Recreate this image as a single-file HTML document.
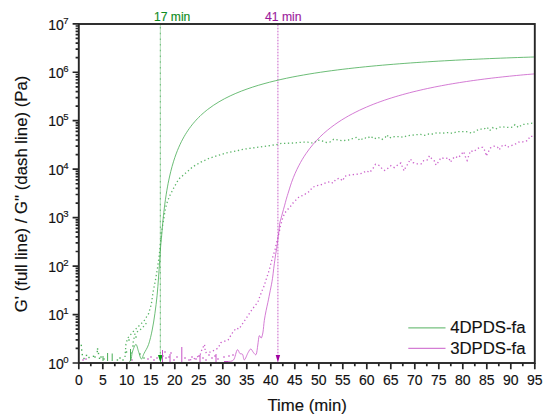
<!DOCTYPE html>
<html><head><meta charset="utf-8"><style>
html,body{margin:0;padding:0;background:#fff;width:550px;height:419px;overflow:hidden}
svg{display:block}
text{font-family:"Liberation Sans",sans-serif}
</style></head><body>
<svg width="550" height="419" viewBox="0 0 550 419"><line x1="160.35" y1="25" x2="160.35" y2="356" stroke="#48ad56" stroke-width="1" opacity="0.4"/><line x1="160.35" y1="27" x2="160.35" y2="356" stroke="#48ad56" stroke-width="1.1" stroke-dasharray="1.5 4.2" opacity="0.65"/><polygon points="158,355 162.8,355 160.4,362.5" fill="#0a9a1a"/><line x1="277.9" y1="25" x2="277.9" y2="356" stroke="#c652c6" stroke-width="0.9" opacity="0.3"/><line x1="277.9" y1="25" x2="277.9" y2="356" stroke="#c652c6" stroke-width="1" stroke-dasharray="1.1 1.9" opacity="0.75"/><polygon points="275.7,355 280.1,355 277.9,362.5" fill="#a000a0"/><rect x="80.6" y="344.7" width="1.4" height="1.4" fill="#48ad56"/><rect x="81.0" y="349.3" width="1.4" height="1.4" fill="#48ad56"/><rect x="81.6" y="353.9" width="1.4" height="1.4" fill="#48ad56"/><rect x="83.3" y="357.8" width="1.4" height="1.4" fill="#48ad56"/><rect x="85.8" y="354.7" width="1.4" height="1.4" fill="#48ad56"/><rect x="88.3" y="356.8" width="1.4" height="1.4" fill="#48ad56"/><rect x="92.8" y="355.6" width="1.4" height="1.4" fill="#48ad56"/><rect x="94.3" y="356.3" width="1.4" height="1.4" fill="#48ad56"/><rect x="96.9" y="348.3" width="1.4" height="1.4" fill="#48ad56"/><rect x="96.6" y="350.8" width="1.4" height="1.4" fill="#48ad56"/><rect x="97.8" y="352.8" width="1.4" height="1.4" fill="#48ad56"/><rect x="98.8" y="357.6" width="1.4" height="1.4" fill="#48ad56"/><rect x="100.3" y="356.3" width="1.4" height="1.4" fill="#48ad56"/><rect x="103.3" y="358.3" width="1.4" height="1.4" fill="#48ad56"/><rect x="116.7" y="359.3" width="1.4" height="1.4" fill="#48ad56"/><rect x="119.3" y="357.3" width="1.4" height="1.4" fill="#48ad56"/><rect x="122.3" y="359.3" width="1.4" height="1.4" fill="#48ad56"/><rect x="125.8" y="351.3" width="1.4" height="1.4" fill="#48ad56"/><rect x="130.3" y="352.3" width="1.4" height="1.4" fill="#48ad56"/><rect x="132.3" y="345.3" width="1.4" height="1.4" fill="#48ad56"/><rect x="128.3" y="339.3" width="1.4" height="1.4" fill="#48ad56"/><rect x="135.3" y="336.3" width="1.4" height="1.4" fill="#48ad56"/><rect x="139.3" y="353.3" width="1.4" height="1.4" fill="#48ad56"/><rect x="143.3" y="357.3" width="1.4" height="1.4" fill="#48ad56"/><line x1="107.6" y1="353" x2="107.6" y2="361" stroke="#48ad56" stroke-width="1"/><line x1="112.2" y1="353.5" x2="112.2" y2="361" stroke="#48ad56" stroke-width="1"/><line x1="103" y1="356" x2="103" y2="361" stroke="#48ad56" stroke-width="1"/><line x1="130.5" y1="349" x2="130.5" y2="361" stroke="#48ad56" stroke-width="1"/><rect x="82.3" y="359.3" width="1.4" height="1.4" fill="#c652c6"/><rect x="85.3" y="358.3" width="1.4" height="1.4" fill="#c652c6"/><rect x="131.3" y="359.3" width="1.4" height="1.4" fill="#c652c6"/><rect x="147.3" y="358.3" width="1.4" height="1.4" fill="#c652c6"/><rect x="150.3" y="356.3" width="1.4" height="1.4" fill="#c652c6"/><rect x="153.3" y="359.3" width="1.4" height="1.4" fill="#c652c6"/><rect x="156.3" y="357.3" width="1.4" height="1.4" fill="#c652c6"/><rect x="162.3" y="355.3" width="1.4" height="1.4" fill="#c652c6"/><rect x="164.3" y="351.3" width="1.4" height="1.4" fill="#c652c6"/><rect x="165.3" y="357.3" width="1.4" height="1.4" fill="#c652c6"/><rect x="168.3" y="356.3" width="1.4" height="1.4" fill="#c652c6"/><rect x="170.3" y="352.3" width="1.4" height="1.4" fill="#c652c6"/><rect x="173.3" y="359.3" width="1.4" height="1.4" fill="#c652c6"/><rect x="176.3" y="356.3" width="1.4" height="1.4" fill="#c652c6"/><rect x="184.3" y="357.3" width="1.4" height="1.4" fill="#c652c6"/><rect x="188.3" y="359.3" width="1.4" height="1.4" fill="#c652c6"/><rect x="191.3" y="356.3" width="1.4" height="1.4" fill="#c652c6"/><rect x="195.3" y="358.3" width="1.4" height="1.4" fill="#c652c6"/><rect x="198.3" y="355.3" width="1.4" height="1.4" fill="#c652c6"/><rect x="202.3" y="357.3" width="1.4" height="1.4" fill="#c652c6"/><rect x="205.3" y="359.3" width="1.4" height="1.4" fill="#c652c6"/><rect x="208.3" y="354.3" width="1.4" height="1.4" fill="#c652c6"/><rect x="211.3" y="357.3" width="1.4" height="1.4" fill="#c652c6"/><rect x="214.3" y="355.3" width="1.4" height="1.4" fill="#c652c6"/><rect x="217.3" y="358.3" width="1.4" height="1.4" fill="#c652c6"/><rect x="223.3" y="356.3" width="1.4" height="1.4" fill="#c652c6"/><rect x="228.3" y="355.3" width="1.4" height="1.4" fill="#c652c6"/><rect x="232.3" y="354.3" width="1.4" height="1.4" fill="#c652c6"/><line x1="162.5" y1="350" x2="162.5" y2="362" stroke="#c652c6" stroke-width="1"/><line x1="181.8" y1="347" x2="181.8" y2="362" stroke="#c652c6" stroke-width="1"/><line x1="170" y1="354" x2="170" y2="362" stroke="#c652c6" stroke-width="1"/><line x1="200" y1="355" x2="200" y2="362" stroke="#c652c6" stroke-width="1"/><line x1="216" y1="354" x2="216" y2="362" stroke="#c652c6" stroke-width="1"/><path d="M129.00,361.50 C129.33,361.25 130.43,361.58 131.00,360.00 C131.57,358.42 131.58,354.60 132.40,352.00 C133.22,349.40 134.87,344.45 135.90,344.40 C136.93,344.35 137.70,349.27 138.60,351.70 C139.50,354.13 140.40,358.70 141.30,359.00 C142.20,359.30 142.78,355.93 144.00,353.50 C145.22,351.07 147.23,348.32 148.60,344.40 C149.97,340.48 151.15,335.13 152.20,330.00 C153.25,324.87 154.08,319.37 154.90,313.60 C155.72,307.83 156.50,301.33 157.10,295.40 C157.70,289.47 158.08,283.57 158.50,278.00 C158.92,272.43 159.27,267.00 159.60,262.00 C159.93,257.00 160.18,252.10 160.50,248.00 C160.82,243.90 161.11,241.74 161.50,237.37 C161.89,233.00 162.39,226.43 162.83,221.76 C163.27,217.10 163.71,213.15 164.16,209.40 C164.60,205.64 165.04,202.36 165.48,199.25 C165.93,196.14 166.37,193.36 166.81,190.71 C167.25,188.07 167.70,185.67 168.14,183.39 C168.58,181.10 169.02,179.01 169.47,177.00 C169.91,175.00 170.35,173.14 170.79,171.36 C171.24,169.59 171.68,167.93 172.12,166.33 C172.56,164.74 173.01,163.24 173.45,161.80 C173.89,160.37 174.33,159.01 174.78,157.70 C175.22,156.39 175.66,155.15 176.10,153.95 C176.55,152.75 176.99,151.61 177.43,150.50 C177.87,149.40 178.32,148.35 178.76,147.33 C179.20,146.31 179.64,145.33 180.09,144.38 C180.53,143.43 180.97,142.52 181.41,141.64 C181.86,140.75 182.30,139.90 182.74,139.08 C183.18,138.25 183.63,137.45 184.07,136.68 C184.51,135.90 184.95,135.15 185.40,134.42 C185.84,133.69 186.28,132.99 186.72,132.30 C187.17,131.61 187.61,130.94 188.05,130.29 C188.49,129.64 188.94,129.01 189.38,128.39 C189.82,127.78 190.26,127.18 190.71,126.59 C191.15,126.00 191.59,125.43 192.03,124.88 C192.48,124.32 192.92,123.78 193.36,123.25 C193.80,122.71 194.25,122.20 194.69,121.69 C195.13,121.18 195.57,120.69 196.02,120.20 C196.46,119.72 196.90,119.25 197.34,118.78 C197.79,118.32 198.23,117.86 198.67,117.42 C199.11,116.97 199.45,116.64 200.00,116.11 C200.55,115.58 200.73,115.34 202.00,114.24 C203.27,113.14 205.76,110.98 207.64,109.51 C209.51,108.04 211.39,106.70 213.27,105.43 C215.15,104.16 217.03,102.98 218.91,101.86 C220.79,100.74 222.66,99.71 224.54,98.71 C226.42,97.72 228.30,96.79 230.18,95.90 C232.06,95.01 233.94,94.17 235.81,93.37 C237.69,92.56 239.57,91.81 241.45,91.08 C243.33,90.35 245.21,89.65 247.08,88.99 C248.96,88.32 250.84,87.69 252.72,87.07 C254.60,86.46 256.48,85.88 258.36,85.31 C260.23,84.75 262.11,84.21 263.99,83.69 C265.87,83.16 267.75,82.66 269.63,82.18 C271.51,81.69 273.38,81.23 275.26,80.78 C277.14,80.32 279.02,79.89 280.90,79.47 C282.78,79.04 284.66,78.64 286.53,78.24 C288.41,77.85 290.29,77.47 292.17,77.09 C294.05,76.72 295.93,76.36 297.81,76.02 C299.68,75.67 301.56,75.33 303.44,75.00 C305.32,74.67 307.20,74.35 309.08,74.04 C310.95,73.73 312.83,73.43 314.71,73.13 C316.59,72.84 318.47,72.56 320.35,72.28 C322.23,72.00 324.10,71.73 325.98,71.46 C327.86,71.20 329.74,70.94 331.62,70.69 C333.50,70.44 335.38,70.20 337.25,69.96 C339.13,69.72 341.01,69.49 342.89,69.26 C344.77,69.04 346.65,68.81 348.53,68.60 C350.40,68.38 352.28,68.17 354.16,67.96 C356.04,67.76 357.92,67.56 359.80,67.36 C361.68,67.16 363.55,66.97 365.43,66.78 C367.31,66.59 369.19,66.41 371.07,66.23 C372.95,66.05 374.82,65.87 376.70,65.70 C378.58,65.53 380.46,65.36 382.34,65.20 C384.22,65.03 386.10,64.87 387.97,64.71 C389.85,64.55 391.73,64.40 393.61,64.25 C395.49,64.10 397.37,63.95 399.25,63.80 C401.12,63.66 403.00,63.51 404.88,63.38 C406.76,63.24 408.64,63.10 410.52,62.96 C412.40,62.83 414.27,62.70 416.15,62.57 C418.03,62.44 419.91,62.32 421.79,62.19 C423.67,62.07 425.55,61.95 427.42,61.83 C429.30,61.71 431.18,61.59 433.06,61.48 C434.94,61.36 436.82,61.25 438.69,61.14 C440.57,61.03 442.45,60.92 444.33,60.82 C446.21,60.71 448.09,60.61 449.97,60.50 C451.84,60.40 453.72,60.30 455.60,60.20 C457.48,60.11 459.36,60.01 461.24,59.91 C463.12,59.82 464.99,59.73 466.87,59.63 C468.75,59.54 470.63,59.45 472.51,59.37 C474.39,59.28 476.27,59.19 478.14,59.11 C480.02,59.02 481.90,58.94 483.78,58.86 C485.66,58.78 487.54,58.70 489.42,58.62 C491.29,58.54 493.17,58.46 495.05,58.38 C496.93,58.31 498.81,58.23 500.69,58.16 C502.56,58.09 504.44,58.02 506.32,57.94 C508.20,57.87 510.08,57.80 511.96,57.74 C513.84,57.67 515.71,57.60 517.59,57.54 C519.47,57.47 521.35,57.41 523.23,57.34 C525.11,57.28 526.99,57.22 528.86,57.16 C530.74,57.09 533.56,57.01 534.50,56.98" fill="none" stroke="#48ad56" stroke-width="0.95" opacity="0.85"/><path d="M125.0,357.0 L125.9,344.4 L127.7,338.1 L133.1,331.7 L138.6,326.3 L144.0,320.9 L148.6,313.6 L151.3,304.5 L153.1,291.8 L155.5,280.0 L157.5,268.0 L159.3,255.0 L160.9,238.2 L161.8,230.6 L163.0,223.0 L164.3,215.3 L165.6,207.7 L167.6,201.0 L170.0,195.3 L173.9,187.7 L178.6,179.2 L185.8,172.9 L192.9,166.7 L200.8,162.2 L208.7,158.5 L217.3,155.6 L226.6,152.9 L244.5,149.1 L259.1,147.1 L277.3,144.5 L281.5,143.3 L287.3,143.3 L294.5,142.9 L301.8,142.2 L307.6,142.2 L312.0,142.9 L314.9,142.2 L317.8,140.0 L322.2,141.0 L326.5,142.5 L330.2,141.9 L333.8,139.3 L338.2,140.0 L342.5,140.7 L348.4,140.0 L352.7,138.5 L357.0,137.3 L359.9,140.5 L364.0,137.8 L367.3,138.4 L370.5,136.1 L374.3,138.9 L377.9,137.3 L382.0,139.4 L385.3,137.3 L386.9,134.8 L389.4,138.1 L392.6,136.8 L399.5,136.5 L403.3,137.3 L406.6,135.8 L410.6,135.3 L415.6,134.8 L420.5,134.3 L424.6,135.3 L428.7,134.0 L432.7,134.0 L437.7,132.5 L441.7,133.3 L448.7,132.5 L452.2,133.3 L457.5,131.6 L466.2,131.6 L469.7,132.5 L472.3,133.0 L475.8,131.1 L479.3,129.0 L483.6,129.3 L487.1,127.2 L489.7,130.7 L492.4,127.6 L495.8,129.0 L499.3,127.2 L502.8,126.9 L509.8,127.6 L512.4,127.2 L515.0,124.6 L518.5,127.6 L522.0,124.6 L526.4,124.1 L530.8,123.4 L534.2,122.9" fill="none" stroke="#48ad56" stroke-width="1.3" stroke-dasharray="1.3 2.6" opacity="0.9"/><path d="M133.1,342.6 L135.0,333.6 L142.2,328.1 L146.8,322.7" fill="none" stroke="#48ad56" stroke-width="1.3" stroke-dasharray="1.3 2.6" opacity="0.9"/><path d="M224.0,361.5 L228.0,361.5" fill="none" stroke="#c652c6" stroke-width="1"/><path d="M228.00,361.50 C228.93,361.23 232.07,361.83 233.60,359.90 C235.13,357.97 236.15,350.97 237.20,349.90 C238.25,348.83 239.00,352.75 239.90,353.50 C240.80,354.25 241.85,353.33 242.60,354.40 C243.35,355.47 243.48,360.20 244.40,359.90 C245.32,359.60 247.03,354.42 248.10,352.60 C249.17,350.78 249.90,349.00 250.80,349.00 C251.70,349.00 252.60,351.70 253.50,352.60 C254.40,353.50 255.48,355.67 256.20,354.40 C256.92,353.13 257.30,348.10 257.80,345.00 C258.30,341.90 258.62,336.97 259.20,335.80 C259.78,334.63 260.67,338.63 261.30,338.00 C261.93,337.37 262.50,334.92 263.00,332.00 C263.50,329.08 263.78,324.07 264.30,320.50 C264.82,316.93 265.50,313.63 266.10,310.60 C266.70,307.57 267.40,304.68 267.90,302.30 C268.40,299.92 268.70,298.30 269.10,296.30 C269.50,294.30 269.90,292.30 270.30,290.30 C270.70,288.30 271.13,286.28 271.50,284.30 C271.87,282.32 272.23,280.15 272.50,278.40 C272.77,276.65 272.90,275.43 273.10,273.80 C273.30,272.17 273.48,270.35 273.70,268.60 C273.92,266.85 274.17,265.05 274.40,263.30 C274.63,261.55 274.88,259.63 275.10,258.10 C275.32,256.57 275.48,255.42 275.70,254.10 C275.92,252.78 276.18,251.52 276.40,250.20 C276.62,248.88 276.78,247.73 277.00,246.20 C277.22,244.67 277.48,242.75 277.70,241.00 C277.92,239.25 278.08,237.45 278.30,235.70 C278.52,233.95 278.77,232.53 279.00,230.50 C279.23,228.47 279.37,225.50 279.70,223.50 C280.03,221.50 280.53,220.25 281.00,218.50 C281.47,216.75 281.92,215.12 282.50,213.00 C283.08,210.88 283.88,208.05 284.50,205.80 C285.12,203.55 285.62,201.54 286.20,199.50 C286.78,197.46 287.10,196.40 288.00,193.53 C288.90,190.67 290.38,185.70 291.57,182.33 C292.76,178.96 293.95,176.08 295.14,173.33 C296.34,170.58 297.53,168.15 298.72,165.82 C299.91,163.50 301.10,161.41 302.29,159.40 C303.48,157.40 304.67,155.56 305.86,153.81 C307.05,152.05 308.24,150.42 309.43,148.85 C310.63,147.29 311.82,145.83 313.01,144.42 C314.20,143.01 315.39,141.69 316.58,140.42 C317.77,139.14 318.96,137.93 320.15,136.77 C321.34,135.60 322.53,134.50 323.72,133.42 C324.92,132.35 326.11,131.33 327.30,130.34 C328.49,129.35 329.68,128.41 330.87,127.49 C332.06,126.57 333.25,125.69 334.44,124.83 C335.63,123.98 336.82,123.15 338.01,122.35 C339.21,121.55 340.40,120.78 341.59,120.03 C342.78,119.28 343.97,118.55 345.16,117.85 C346.35,117.14 347.54,116.46 348.73,115.79 C349.92,115.13 351.11,114.48 352.30,113.85 C353.50,113.22 354.69,112.61 355.88,112.02 C357.07,111.42 358.26,110.84 359.45,110.28 C360.64,109.71 361.83,109.16 363.02,108.62 C364.21,108.09 365.40,107.56 366.59,107.05 C367.79,106.54 368.98,106.04 370.17,105.55 C371.36,105.07 372.55,104.59 373.74,104.13 C374.93,103.66 376.12,103.21 377.31,102.76 C378.50,102.32 379.69,101.88 380.88,101.46 C382.07,101.03 383.27,100.62 384.46,100.21 C385.65,99.80 386.84,99.41 388.03,99.01 C389.22,98.62 390.41,98.24 391.60,97.87 C392.79,97.49 393.98,97.13 395.17,96.77 C396.36,96.41 397.56,96.06 398.75,95.71 C399.94,95.37 401.13,95.03 402.32,94.69 C403.51,94.36 404.70,94.04 405.89,93.72 C407.08,93.40 408.27,93.08 409.46,92.78 C410.65,92.47 411.85,92.17 413.04,91.87 C414.23,91.57 415.42,91.28 416.61,91.00 C417.80,90.71 418.99,90.43 420.18,90.16 C421.37,89.88 422.56,89.61 423.75,89.34 C424.94,89.08 426.14,88.82 427.33,88.56 C428.52,88.30 429.71,88.05 430.90,87.80 C432.09,87.56 433.28,87.31 434.47,87.07 C435.66,86.83 436.85,86.60 438.04,86.37 C439.23,86.14 440.43,85.91 441.62,85.69 C442.81,85.46 444.00,85.24 445.19,85.03 C446.38,84.81 447.57,84.60 448.76,84.39 C449.95,84.18 451.14,83.97 452.33,83.77 C453.52,83.57 454.71,83.37 455.91,83.18 C457.10,82.98 458.29,82.79 459.48,82.60 C460.67,82.41 461.86,82.22 463.05,82.04 C464.24,81.85 465.43,81.67 466.62,81.50 C467.81,81.32 469.00,81.14 470.20,80.97 C471.39,80.80 472.58,80.63 473.77,80.46 C474.96,80.30 476.15,80.13 477.34,79.97 C478.53,79.81 479.72,79.65 480.91,79.50 C482.10,79.34 483.29,79.19 484.49,79.03 C485.68,78.88 486.87,78.73 488.06,78.59 C489.25,78.44 490.44,78.30 491.63,78.15 C492.82,78.01 494.01,77.87 495.20,77.73 C496.39,77.60 497.58,77.46 498.78,77.33 C499.97,77.19 501.16,77.06 502.35,76.93 C503.54,76.80 504.73,76.68 505.92,76.55 C507.11,76.42 508.30,76.30 509.49,76.18 C510.68,76.06 511.87,75.94 513.07,75.82 C514.26,75.70 515.45,75.59 516.64,75.47 C517.83,75.36 519.02,75.25 520.21,75.14 C521.40,75.02 522.59,74.92 523.78,74.81 C524.97,74.70 526.16,74.60 527.36,74.49 C528.55,74.39 529.74,74.29 530.93,74.19 C532.12,74.08 533.90,73.94 534.50,73.89" fill="none" stroke="#c652c6" stroke-width="0.95" opacity="0.8"/><path d="M190.0,359.9 L193.6,359.0 L200.0,355.3 L201.8,349.9 L204.5,344.4 L205.4,352.6 L211.0,352.0 L218.1,348.1 L220.9,342.6 L223.6,341.7 L228.1,339.9 L232.6,332.6 L236.3,328.1 L239.0,329.0 L242.6,323.6 L246.3,318.1 L249.9,312.7 L252.4,309.0 L254.8,306.0 L257.8,302.3 L259.0,298.7 L260.8,293.9 L262.5,289.7 L264.3,285.5 L265.5,281.4 L267.1,276.6 L268.5,272.3 L269.8,267.9 L271.1,262.7 L272.4,258.1 L273.7,254.1 L275.1,249.5 L276.1,244.9 L277.0,241.0 L278.3,235.7 L279.3,231.8 L280.3,226.6 L281.6,222.0 L282.6,218.2 L284.9,212.8 L288.5,208.5 L290.4,206.5 L293.4,202.5 L296.4,199.5 L299.4,196.5 L303.9,195.2 L306.8,192.8 L309.8,191.3 L312.1,187.6 L316.5,185.6 L319.5,185.3 L323.2,183.9 L327.0,182.4 L330.0,181.6 L332.9,183.1 L335.9,179.4 L339.6,178.2 L342.6,180.9 L344.9,176.1 L348.6,175.2 L353.1,174.6 L358.3,174.1 L362.4,173.3 L366.5,170.8 L369.7,172.5 L373.0,168.4 L375.5,164.3 L379.5,165.6 L382.5,169.2 L384.5,170.5 L387.7,168.4 L391.0,165.6 L394.3,167.6 L397.6,165.1 L400.8,163.0 L402.5,167.2 L404.1,170.8 L405.7,167.2 L408.2,163.5 L410.3,159.0 L413.1,162.6 L417.2,163.9 L421.3,163.9 L423.7,160.7 L427.0,160.2 L429.5,155.8 L431.6,158.6 L434.4,161.0 L436.0,165.1 L438.5,161.8 L440.9,157.7 L445.2,158.6 L448.7,157.8 L450.5,162.1 L452.2,159.5 L454.8,156.5 L458.3,157.8 L460.9,154.8 L463.6,151.6 L465.3,156.5 L467.1,160.4 L468.8,155.5 L470.5,150.8 L474.0,151.6 L476.6,149.0 L480.1,147.3 L482.8,147.3 L485.4,151.6 L486.2,156.0 L488.0,152.5 L490.6,147.8 L494.1,146.1 L497.6,147.3 L499.3,149.9 L501.1,146.4 L504.6,144.7 L507.2,147.3 L509.8,146.1 L515.0,144.3 L518.5,142.1 L522.0,142.1 L525.5,141.2 L528.1,140.3 L529.9,136.3 L534.2,136.5" fill="none" stroke="#c652c6" stroke-width="1.3" stroke-dasharray="1.3 2.6" opacity="0.9"/><rect x="78.8" y="24" width="456" height="339" fill="none" stroke="#262626" stroke-width="1.9"/><path d="M72.6,363.00H78.8 M75.6,348.41H78.8 M75.6,339.88H78.8 M75.6,333.83H78.8 M75.6,329.13H78.8 M75.6,325.29H78.8 M75.6,322.05H78.8 M75.6,319.24H78.8 M75.6,316.76H78.8 M72.6,314.54H78.8 M75.6,299.96H78.8 M75.6,291.42H78.8 M75.6,285.37H78.8 M75.6,280.67H78.8 M75.6,276.84H78.8 M75.6,273.59H78.8 M75.6,270.78H78.8 M75.6,268.30H78.8 M72.6,266.09H78.8 M75.6,251.50H78.8 M75.6,242.97H78.8 M75.6,236.91H78.8 M75.6,232.22H78.8 M75.6,228.38H78.8 M75.6,225.14H78.8 M75.6,222.32H78.8 M75.6,219.85H78.8 M72.6,217.63H78.8 M75.6,203.04H78.8 M75.6,194.51H78.8 M75.6,188.45H78.8 M75.6,183.76H78.8 M75.6,179.92H78.8 M75.6,176.68H78.8 M75.6,173.87H78.8 M75.6,171.39H78.8 M72.6,169.17H78.8 M75.6,154.58H78.8 M75.6,146.05H78.8 M75.6,140.00H78.8 M75.6,135.30H78.8 M75.6,131.47H78.8 M75.6,128.22H78.8 M75.6,125.41H78.8 M75.6,122.93H78.8 M72.6,120.72H78.8 M75.6,106.13H78.8 M75.6,97.60H78.8 M75.6,91.54H78.8 M75.6,86.85H78.8 M75.6,83.01H78.8 M75.6,79.76H78.8 M75.6,76.95H78.8 M75.6,74.48H78.8 M72.6,72.26H78.8 M75.6,57.67H78.8 M75.6,49.14H78.8 M75.6,43.08H78.8 M75.6,38.39H78.8 M75.6,34.55H78.8 M75.6,31.31H78.8 M75.6,28.50H78.8 M75.6,26.02H78.8 M72.6,23.80H78.8 M78.80,363V369.3 M90.80,363V366.2 M102.80,363V369.3 M114.80,363V366.2 M126.80,363V369.3 M138.80,363V366.2 M150.80,363V369.3 M162.80,363V366.2 M174.80,363V369.3 M186.80,363V366.2 M198.80,363V369.3 M210.80,363V366.2 M222.80,363V369.3 M234.80,363V366.2 M246.80,363V369.3 M258.80,363V366.2 M270.80,363V369.3 M282.80,363V366.2 M294.80,363V369.3 M306.80,363V366.2 M318.80,363V369.3 M330.80,363V366.2 M342.80,363V369.3 M354.80,363V366.2 M366.80,363V369.3 M378.80,363V366.2 M390.80,363V369.3 M402.80,363V366.2 M414.80,363V369.3 M426.80,363V366.2 M438.80,363V369.3 M450.80,363V366.2 M462.80,363V369.3 M474.80,363V366.2 M486.80,363V369.3 M498.80,363V366.2 M510.80,363V369.3 M522.80,363V366.2 M534.80,363V369.3" stroke="#262626" stroke-width="1.7" fill="none"/><text x="48.2" y="368.7" font-family="Liberation Sans, sans-serif" font-size="14" fill="#111" stroke="#111" stroke-width="0.15">10<tspan font-size="9.6" dx="-0.6" dy="-6.0">0</tspan></text><text x="48.2" y="320.2" font-family="Liberation Sans, sans-serif" font-size="14" fill="#111" stroke="#111" stroke-width="0.15">10<tspan font-size="9.6" dx="-0.6" dy="-6.0">1</tspan></text><text x="48.2" y="271.8" font-family="Liberation Sans, sans-serif" font-size="14" fill="#111" stroke="#111" stroke-width="0.15">10<tspan font-size="9.6" dx="-0.6" dy="-6.0">2</tspan></text><text x="48.2" y="223.3" font-family="Liberation Sans, sans-serif" font-size="14" fill="#111" stroke="#111" stroke-width="0.15">10<tspan font-size="9.6" dx="-0.6" dy="-6.0">3</tspan></text><text x="48.2" y="174.9" font-family="Liberation Sans, sans-serif" font-size="14" fill="#111" stroke="#111" stroke-width="0.15">10<tspan font-size="9.6" dx="-0.6" dy="-6.0">4</tspan></text><text x="48.2" y="126.4" font-family="Liberation Sans, sans-serif" font-size="14" fill="#111" stroke="#111" stroke-width="0.15">10<tspan font-size="9.6" dx="-0.6" dy="-6.0">5</tspan></text><text x="48.2" y="78.0" font-family="Liberation Sans, sans-serif" font-size="14" fill="#111" stroke="#111" stroke-width="0.15">10<tspan font-size="9.6" dx="-0.6" dy="-6.0">6</tspan></text><text x="48.2" y="29.5" font-family="Liberation Sans, sans-serif" font-size="14" fill="#111" stroke="#111" stroke-width="0.15">10<tspan font-size="9.6" dx="-0.6" dy="-6.0">7</tspan></text><text x="78.80" y="384.6" font-family="Liberation Sans, sans-serif" font-size="14" fill="#111" stroke="#111" stroke-width="0.15" text-anchor="middle">0</text><text x="102.80" y="384.6" font-family="Liberation Sans, sans-serif" font-size="14" fill="#111" stroke="#111" stroke-width="0.15" text-anchor="middle">5</text><text x="126.80" y="384.6" font-family="Liberation Sans, sans-serif" font-size="14" fill="#111" stroke="#111" stroke-width="0.15" text-anchor="middle">10</text><text x="150.80" y="384.6" font-family="Liberation Sans, sans-serif" font-size="14" fill="#111" stroke="#111" stroke-width="0.15" text-anchor="middle">15</text><text x="174.80" y="384.6" font-family="Liberation Sans, sans-serif" font-size="14" fill="#111" stroke="#111" stroke-width="0.15" text-anchor="middle">20</text><text x="198.80" y="384.6" font-family="Liberation Sans, sans-serif" font-size="14" fill="#111" stroke="#111" stroke-width="0.15" text-anchor="middle">25</text><text x="222.80" y="384.6" font-family="Liberation Sans, sans-serif" font-size="14" fill="#111" stroke="#111" stroke-width="0.15" text-anchor="middle">30</text><text x="246.80" y="384.6" font-family="Liberation Sans, sans-serif" font-size="14" fill="#111" stroke="#111" stroke-width="0.15" text-anchor="middle">35</text><text x="270.80" y="384.6" font-family="Liberation Sans, sans-serif" font-size="14" fill="#111" stroke="#111" stroke-width="0.15" text-anchor="middle">40</text><text x="294.80" y="384.6" font-family="Liberation Sans, sans-serif" font-size="14" fill="#111" stroke="#111" stroke-width="0.15" text-anchor="middle">45</text><text x="318.80" y="384.6" font-family="Liberation Sans, sans-serif" font-size="14" fill="#111" stroke="#111" stroke-width="0.15" text-anchor="middle">50</text><text x="342.80" y="384.6" font-family="Liberation Sans, sans-serif" font-size="14" fill="#111" stroke="#111" stroke-width="0.15" text-anchor="middle">55</text><text x="366.80" y="384.6" font-family="Liberation Sans, sans-serif" font-size="14" fill="#111" stroke="#111" stroke-width="0.15" text-anchor="middle">60</text><text x="390.80" y="384.6" font-family="Liberation Sans, sans-serif" font-size="14" fill="#111" stroke="#111" stroke-width="0.15" text-anchor="middle">65</text><text x="414.80" y="384.6" font-family="Liberation Sans, sans-serif" font-size="14" fill="#111" stroke="#111" stroke-width="0.15" text-anchor="middle">70</text><text x="438.80" y="384.6" font-family="Liberation Sans, sans-serif" font-size="14" fill="#111" stroke="#111" stroke-width="0.15" text-anchor="middle">75</text><text x="462.80" y="384.6" font-family="Liberation Sans, sans-serif" font-size="14" fill="#111" stroke="#111" stroke-width="0.15" text-anchor="middle">80</text><text x="486.80" y="384.6" font-family="Liberation Sans, sans-serif" font-size="14" fill="#111" stroke="#111" stroke-width="0.15" text-anchor="middle">85</text><text x="510.80" y="384.6" font-family="Liberation Sans, sans-serif" font-size="14" fill="#111" stroke="#111" stroke-width="0.15" text-anchor="middle">90</text><text x="534.80" y="384.6" font-family="Liberation Sans, sans-serif" font-size="14" fill="#111" stroke="#111" stroke-width="0.15" text-anchor="middle">95</text><text x="307.2" y="410.6" font-family="Liberation Sans, sans-serif" font-size="16.75" fill="#111" stroke="#111" stroke-width="0.15" text-anchor="middle">Time (min)</text><text transform="translate(26.6,193.9) rotate(-90)" x="0" y="0" font-family="Liberation Sans, sans-serif" font-size="16.8" fill="#111" stroke="#111" stroke-width="0.15" text-anchor="middle">G' (full line) / G" (dash line) (Pa)</text><text x="154" y="21" font-family="Liberation Sans, sans-serif" font-size="12.1" fill="#0e8c22" stroke="#0e8c22" stroke-width="0.15">17 min</text><text x="265" y="21" font-family="Liberation Sans, sans-serif" font-size="12.2" fill="#9c1a9c" stroke="#9c1a9c" stroke-width="0.15">41 min</text><line x1="408.3" y1="327.9" x2="445.5" y2="327.9" stroke="#48ad56" stroke-width="1.3" opacity="0.75"/><text x="450.2" y="333.3" font-family="Liberation Sans, sans-serif" font-size="16.75" fill="#111" stroke="#111" stroke-width="0.15">4DPDS-fa</text><line x1="408.3" y1="348.4" x2="445.5" y2="348.4" stroke="#c652c6" stroke-width="1.3" opacity="0.75"/><text x="450.2" y="353.7" font-family="Liberation Sans, sans-serif" font-size="16.75" fill="#111" stroke="#111" stroke-width="0.15">3DPDS-fa</text></svg>
</body></html>
